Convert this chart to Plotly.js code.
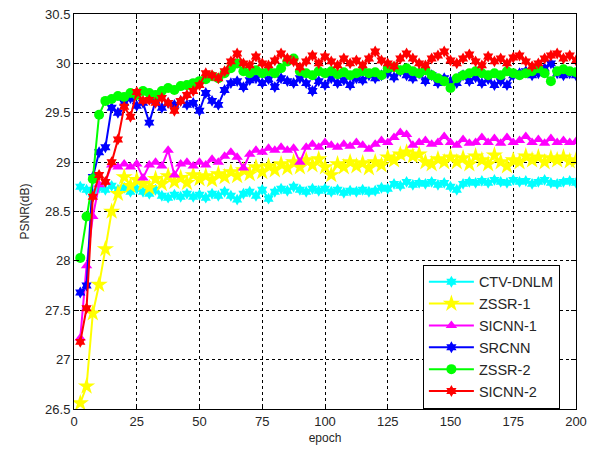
<!DOCTYPE html>
<html>
<head>
<meta charset="utf-8">
<script src="https://cdn.plot.ly/plotly-3.0.1.min.js"></script>
<style>html,body{margin:0;padding:0;background:#fff;}#chart{width:599px;height:453px;}</style>
</head>
<body>
<div id="chart"></div>
<script>
// epochs sampled every 2.5 epochs
const epochs = [];
for (let i = 1; i <= 80; i++) epochs.push(i * 2.5);

const seriesNames = ["CTV-DNLM", "ZSSR-1", "SICNN-1", "SRCNN", "ZSSR-2", "SICNN-2"];

const ctvDnlm = [28.75,28.72,28.68,28.74,28.72,28.76,28.72,28.74,28.70,28.73,
  28.70,28.68,28.72,28.66,28.64,28.67,28.65,28.68,28.65,28.67,
  28.64,28.68,28.66,28.70,28.66,28.62,28.68,28.70,28.66,28.72,
  28.63,28.70,28.73,28.71,28.75,28.72,28.70,28.73,28.71,28.73,
  28.70,28.72,28.69,28.71,28.70,28.72,28.70,28.71,28.74,28.73,
  28.78,28.76,28.80,28.77,28.79,28.78,28.80,28.77,28.79,28.75,
  28.72,28.78,28.80,28.79,28.81,28.79,28.82,28.80,28.79,28.82,
  28.80,28.81,28.78,28.80,28.82,28.79,28.78,28.80,28.81,28.79];

const zssr1 = [26.56,26.73,27.47,27.76,28.12,28.50,28.68,28.85,28.76,28.82,
  28.78,28.74,28.83,28.78,28.86,28.80,28.84,28.79,28.87,28.83,
  28.86,28.82,28.88,28.85,28.90,28.86,28.92,28.88,28.95,28.90,
  28.96,28.92,28.98,28.94,29.00,28.95,29.02,28.97,29.03,28.95,
  28.87,28.98,28.95,29.00,28.96,28.99,28.94,29.00,28.97,29.05,
  29.02,29.08,29.10,29.06,29.08,29.00,28.98,29.03,29.00,29.05,
  29.00,29.04,28.98,29.06,29.02,28.98,29.07,29.00,28.96,29.02,
  29.00,29.06,29.02,29.05,29.00,29.04,29.02,29.05,29.01,29.02];

const sicnn1 = [27.22,27.95,28.45,28.77,28.80,28.97,28.95,28.98,28.95,28.98,
  28.84,28.97,29.00,28.96,29.12,28.87,28.98,29.00,28.96,29.00,
  28.97,29.03,29.00,29.06,29.10,29.05,28.94,29.08,29.12,29.10,
  29.14,29.12,29.15,29.12,29.14,29.00,29.15,29.18,29.15,29.20,
  29.17,29.15,29.18,29.16,29.20,29.17,29.13,29.18,29.22,29.20,
  29.25,29.30,29.28,29.17,29.20,29.22,29.18,29.20,29.26,29.20,
  29.17,29.23,29.19,29.20,29.25,29.20,29.24,29.19,29.25,29.20,
  29.22,29.26,29.20,29.23,29.19,29.24,29.20,29.22,29.20,29.21];

const srcnn = [27.68,27.75,28.85,29.10,29.15,29.55,29.50,29.60,29.65,29.57,
  29.60,29.40,29.62,29.55,29.60,29.58,29.62,29.58,29.60,29.52,
  29.70,29.62,29.58,29.73,29.80,29.82,29.76,29.83,29.85,29.80,
  29.84,29.76,29.85,29.82,29.80,29.85,29.80,29.72,29.82,29.78,
  29.85,29.80,29.83,29.78,29.85,29.83,29.88,29.85,29.88,29.90,
  29.86,29.92,29.88,29.85,29.90,29.82,29.88,29.80,29.85,29.82,
  29.80,29.88,29.82,29.86,29.80,29.84,29.78,29.82,29.78,29.88,
  29.90,29.92,29.88,29.90,29.95,30.00,29.90,29.88,29.90,29.88];

const zssr2 = [28.03,28.45,28.83,29.48,29.62,29.64,29.67,29.66,29.70,29.68,
  29.72,29.70,29.68,29.72,29.75,29.73,29.77,29.78,29.80,29.82,
  29.84,29.87,29.85,29.90,29.95,30.00,29.92,29.90,29.93,29.90,
  29.92,29.90,29.95,30.02,30.05,29.92,29.90,29.88,29.92,29.90,
  29.92,29.89,29.91,29.88,29.90,29.92,29.90,29.91,29.88,29.95,
  29.96,29.93,29.95,29.92,29.90,29.93,29.88,29.85,29.82,29.75,
  29.85,29.88,29.90,29.92,29.90,29.88,29.90,29.88,29.92,29.90,
  29.88,29.90,29.92,29.95,29.90,29.82,29.92,29.94,29.92,29.91];

const sicnn2 = [27.18,27.52,28.65,28.87,28.80,29.00,29.23,29.56,29.46,29.71,
  29.62,29.63,29.60,29.65,29.60,29.52,29.62,29.68,29.72,29.78,
  29.90,29.88,29.85,29.92,30.02,30.10,30.00,29.98,30.07,30.00,
  29.98,30.03,30.10,30.05,30.02,29.96,30.02,30.08,30.00,30.07,
  30.02,29.98,30.05,30.00,30.03,29.98,30.05,30.12,30.03,30.00,
  29.97,30.05,30.10,30.05,30.00,29.98,30.05,30.08,30.12,30.03,
  30.00,30.05,30.09,30.02,29.98,30.07,30.02,30.05,30.00,30.06,
  30.08,30.02,29.97,30.00,30.05,30.08,30.10,30.05,30.08,30.03];

const xTicks = [0, 25, 50, 75, 100, 125, 150, 175, 200];
const yTicks = [26.5, 27, 27.5, 28, 28.5, 29, 29.5, 30, 30.5];

const values = [ctvDnlm, zssr1, sicnn1, srcnn, zssr2, sicnn2];
const colors = ["#00ffff", "#ffff00", "#ff00ff", "#0000ff", "#00ff00", "#ff0000"];
const symbols = ["hexagram", "star", "triangle-up", "hexagram", "circle", "hexagram"];
const sizes = [9, 13, 10, 9, 10, 9];

const traces = values.map((v, i) => ({
  x: epochs, y: v, name: seriesNames[i], type: "scatter", mode: "lines+markers",
  line: {color: colors[i], width: 2},
  marker: {color: colors[i], symbol: symbols[i], size: sizes[i], line: {width: 0}}
}));

const fontFam = "Liberation Sans, Arial, sans-serif";
const axisCommon = {
  showline: true, linecolor: "#000", linewidth: 1, mirror: "ticks",
  ticks: "inside", ticklen: 5, tickcolor: "#000", tickwidth: 1,
  showgrid: true, gridcolor: "#000", gridwidth: 1, griddash: "3px,3px",
  zeroline: false, tickfont: {family: fontFam, size: 13, color: "#262626"}
};

const layout = {
  width: 599, height: 453,
  margin: {l: 74, r: 23, t: 14, b: 44},
  paper_bgcolor: "#fff", plot_bgcolor: "#fff",
  showlegend: true,
  xaxis: Object.assign({}, axisCommon, {
    range: [0, 200], tickvals: xTicks, ticktext: xTicks.map(String),
    title: {text: "epoch", font: {family: fontFam, size: 12, color: "#262626"}, standoff: 6}
  }),
  yaxis: Object.assign({}, axisCommon, {
    range: [26.5, 30.5], tickvals: yTicks, ticktext: yTicks.map(String),
    title: {text: "PSNR(dB)", font: {family: fontFam, size: 12, color: "#262626"}, standoff: 12}
  }),
  legend: {
    x: 0.695, y: 0.365, xanchor: "left", yanchor: "top",
    bgcolor: "#fff", bordercolor: "#000", borderwidth: 1,
    font: {family: fontFam, size: 14.5, color: "#262626"},
    itemwidth: 45, tracegroupgap: 0
  }
};

Plotly.newPlot("chart", traces, layout, {displayModeBar: false, staticPlot: true});
</script>
</body>
</html>
